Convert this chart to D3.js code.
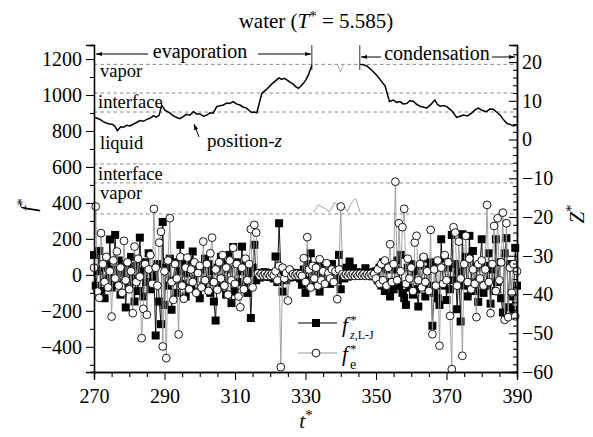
<!DOCTYPE html>
<html>
<head>
<meta charset="utf-8">
<script src="https://cdn.jsdelivr.net/npm/d3@7"></script>
<style>
  body { margin: 0; background: #fff; }
  svg { display: block; }
  text { font-family: "Liberation Serif", "DejaVu Serif", serif; fill: #000; }
</style>
</head>
<body>
<svg id="chart" width="593" height="437"></svg>
<script>
// sample times of the force series (every 0.5 t*)
const times = d3.range(270, 390.001, 0.5);

// f*_{z,L-J}  (black squares)
const fLJ = [
  110, -60, 20, 133, -90, 40, -130, 60, -20, 197, -70, 30, 222, -40, 80, -110, 10, 60, -181, 40,
  -50, 100, -20, -148, 50, -90, 207, 20, -120, 70, -40, 120, -80, 30, -10, -337, 60, -148, -274, 294,
  -167, 40, -60, 90, -194, -30, 70, -100, 20, 167, -50, 60, -120, 10, 80, -70, 130, -20, 50, -90,
  -130, 30, -60, 90, -30, 60, -100, 20, -148, -254, 40, -70, 100, -20, 60, -110, 30, 111, -157, 155,
  -93, 70, -40, 20, 157, -60, 50, -100, 10, -240, 40, 167, -30, 10, -15, 12, -8, 15, -10, 8,
  -12, 10, -20, 102, -40, 287, 30, -93, 20, -30, 10, -15, 12, -8, 10, -12, 8, -20, -55, 30,
  -100, 60, -30, 120, -60, 20, -40, 50, -93, 10, -37, 40, -20, 30, -50, 60, -10, 20, -30, 111,
  -80, 30, -20, 40, -10, 74, -5, 37, 5, 15, -5, 12, 0, 10, 37, -5, 8, 15, -8, 11,
  20, -30, 40, -60, 70, -90, 30, -40, -120, 50, -80, 30, 80, -60, 111, -100, -129, -167, 40, -70,
  60, -110, 20, -80, -176, 50, -40, 90, -120, 30, -60, 70, -283, -100, 40, -130, -167, 198, -60, 90,
  -140, 40, -80, 222, -30, 60, -191, 20, -259, 226, -60, 100, -120, 217, -40, 133, -90, 40, -150, 60,
  198, -100, 50, -60, 120, -160, 30, -90, 198, -40, 70, -130, -209, 120, 204, -180, 60, -120, -194, 150,
  -60
];

// f*_e  (open circles)
const fE = [
  40, 380, -93, -128, 232, 60, -40, 100, -70, 20, -232, 80, -20, 130, -60, 40, -100, 189, -30, 70,
  -80, 20, -213, 157, -40, 90, -10, -352, -189, 60, -222, 30, 110, -50, 367, 40, -60, 179, 240, -398,
  20, -463, 80, 315, -40, -139, 60, -20, -331, 100, -60, -133, 40, 96, -80, 30, -40, 70, -100, 10,
  50, -70, 185, -30, 60, -90, 120, 207, -40, 30, -83, 70, -20, 110, -60, 40, -110, 80, -30, 151,
  -50, 60, -120, -180, 40, -80, 90, -30, 60, 254, -70, 278, 235, 8, -5, 6, -4, 5, -6, 4,
  -5, 6, -3, 20, -30, 50, -513, 40, -20, 10, -143, 30, -8, 5, -4, 6, -5, 4, -6, 93,
  -40, 210, 30, -70, 50, -20, 40, -60, 87, -30, 20, -50, 65, 10, -20, 30, -40, 20, -135, 30,
  380, 5, -6, 4, -5, 6, -4, 5, -6, 4, -5, 6, -4, 5, -6, 4, -5, 6, -4, 5,
  -20, 30, -50, 60, -30, 80, -60, 40, 170, -40, 60, 518, -30, 287, 20, 265, 367, -50, 90, -20,
  40, -90, 180, 217, -30, 60, -70, 100, -40, 20, -90, 250, -330, 30, -60, 80, -394, 40, -50, 110,
  -30, 70, -228, -524, 265, 235, -60, 185, -20, -450, 60, 217, -40, 90, -80, 30, -50, -235, 60, -20,
  80, -60, 30, 389, -40, -213, 60, 272, -90, 315, -30, 70, 346, -250, 287, -235, 40, -100, 60, -230,
  20
];

// interface position Z* (black line)
const posEvapT = [270.3, 271.7, 272.6, 273.6, 274.5, 275.3, 276.0, 276.6, 277.6, 278.4, 279.3, 280.2, 281.2, 282.1, 283.0, 284.0, 285.0, 285.9, 286.8, 287.7, 288.5, 289.2, 290.1, 291.6, 292.5, 293.5, 294.4, 295.3, 296.2, 297.2, 298.2, 299.1, 300.1, 301.0, 302.0, 302.9, 303.8, 304.8, 305.8, 306.7, 307.6, 308.5, 309.5, 310.4, 311.4, 312.3, 313.3, 314.0, 314.7, 315.5, 316.2, 317.6, 319.0, 320.4, 321.8, 322.5, 323.2, 324.0, 324.7, 325.6, 326.5, 327.3, 328.0, 328.7, 329.4, 330.1, 330.8, 331.8];
const posEvapZ = [5.7, 5.2, 4.6, 4.2, 4.0, 3.9, 3.3, 2.3, 3.3, 3.2, 3.7, 3.5, 4.0, 4.4, 4.9, 4.7, 5.2, 5.5, 6.1, 5.8, 6.3, 8.9, 7.6, 6.8, 6.1, 5.7, 5.4, 5.9, 6.5, 6.3, 7.2, 6.6, 6.6, 6.0, 6.3, 6.9, 6.8, 8.5, 8.7, 8.9, 9.4, 9.3, 9.8, 9.2, 8.9, 8.4, 8.1, 7.5, 7.0, 7.1, 6.9, 11.9, 13.0, 14.3, 15.4, 15.9, 15.5, 15.8, 15.4, 14.8, 14.3, 13.6, 13.2, 13.8, 14.5, 15.4, 16.6, 19.2];
const posCondT = [345.5, 346.4, 347.4, 348.8, 350.2, 351.4, 352.6, 353.8, 354.9, 355.8, 356.8, 357.7, 358.7, 359.6, 360.6, 361.5, 362.5, 363.4, 364.4, 365.5, 366.7, 367.4, 368.2, 369.1, 370.1, 371.5, 372.9, 373.8, 374.8, 375.9, 377.1, 378.0, 379.0, 380.2, 381.4, 382.3, 383.3, 384.2, 385.2, 386.1, 387.1, 388.0, 389.0, 390.0];
const posCondZ = [19.4, 19.3, 19.0, 17.9, 16.6, 15.2, 13.8, 9.8, 10.2, 9.6, 9.8, 9.2, 9.3, 10.0, 9.9, 9.1, 8.6, 8.4, 8.1, 9.0, 10.2, 9.1, 8.6, 8.8, 8.5, 7.4, 5.7, 6.0, 6.3, 6.1, 6.8, 7.6, 8.1, 7.5, 7.2, 7.9, 7.8, 7.1, 6.3, 5.2, 4.2, 3.9, 3.5, 3.8];

// wrapped part of the position (grey thin line)
const grayLowT = [332.2, 333.6, 335.5, 336.8, 338.3, 339.6, 341.0, 341.9, 343.0, 344.2, 345.5];
const grayLowZ = [-18.9, -16.9, -17.8, -18.7, -16.2, -17.7, -17.1, -18.6, -16.4, -15.2, -18.8];
const grayTopT = [339.1, 339.9, 340.7];
const grayTopZ = [19.2, 17.4, 19.2];

// region boundaries (Z*) and labels
const guideZ = [19.4, 12.0, 7.1, -6.3, -11.2, -19.2];
const regionLabels = ["vapor", "interface", "liquid", "interface", "vapor"];

const leftTicks = [-400, -200, 0, 200, 400, 600, 800, 1000, 1200];
const leftMinor = [-500, -300, -100, 100, 300, 500, 700, 900, 1100];
const rightTicks = [-60, -50, -40, -30, -20, -10, 0, 10, 20];
const rightMinor = d3.range(-58, 24, 2).filter(v => v % 10 !== 0);
const bottomTicks = [270, 290, 310, 330, 350, 370, 390];
const bottomMinor = d3.range(275, 390, 5).filter(v => (v - 270) % 20 !== 0);

const svg = d3.select("#chart");
const L = 94, R = 517, T = 45, B = 372;

const x = d3.scaleLinear().domain([270, 390]).range([L, R]);
const yL = d3.scaleLinear().domain([-540, 1278]).range([B, T]);
const yR = d3.scaleLinear().domain([-60, 24.4]).range([B, T]);

const minusFmt = v => (v < 0 ? "\u2212" + Math.abs(v) : "" + v);

// dashed region lines
svg.append("g").selectAll("line").data(guideZ).join("line")
  .attr("x1", L).attr("x2", R)
  .attr("y1", d => yR(d)).attr("y2", d => yR(d))
  .attr("stroke", "#8a8a8a").attr("stroke-width", 1)
  .attr("stroke-dasharray", "3.5,3");

// region labels
const labelY = [77, 108, 149, 180, 199];
svg.append("g").selectAll("text").data(regionLabels).join("text")
  .attr("x", (d, i) => (i === 1 || i === 3 ? 98 : 100))
  .attr("y", (d, i) => labelY[i])
  .attr("font-size", 18.5)
  .text(d => d);

// position line
const posLine = d3.line().x(d => x(d[0])).y(d => yR(d[1]));
svg.append("path").datum(d3.zip(posEvapT, posEvapZ))
  .attr("d", posLine).attr("fill", "none").attr("stroke", "#000").attr("stroke-width", 1.5);
svg.append("path").datum(d3.zip(posCondT, posCondZ))
  .attr("d", posLine).attr("fill", "none").attr("stroke", "#000").attr("stroke-width", 1.5);
svg.append("path").datum(d3.zip(grayLowT, grayLowZ))
  .attr("d", posLine).attr("fill", "none").attr("stroke", "#9a9a9a").attr("stroke-width", 0.9);
svg.append("path").datum(d3.zip(grayTopT, grayTopZ))
  .attr("d", posLine).attr("fill", "none").attr("stroke", "#9a9a9a").attr("stroke-width", 0.9);

// force series
const fLine = d3.line().x((d, i) => x(times[i])).y(d => yL(d));
svg.append("path").datum(fLJ).attr("d", fLine)
  .attr("fill", "none").attr("stroke", "#000").attr("stroke-width", 0.9);
svg.append("g").selectAll("rect").data(fLJ).join("rect")
  .attr("x", (d, i) => x(times[i]) - 4).attr("y", d => yL(d) - 4)
  .attr("width", 8).attr("height", 8).attr("fill", "#000");
svg.append("path").datum(fE).attr("d", fLine)
  .attr("fill", "none").attr("stroke", "#9a9a9a").attr("stroke-width", 0.9);
svg.append("g").selectAll("circle").data(fE).join("circle")
  .attr("cx", (d, i) => x(times[i])).attr("cy", d => yL(d)).attr("r", 3.9)
  .attr("fill", "#fff").attr("stroke", "#000").attr("stroke-width", 0.9);

// axes
svg.append("g").attr("transform", `translate(${L},0)`)
  .call(d3.axisLeft(yL).tickValues(leftTicks).tickSize(8).tickPadding(4).tickFormat(minusFmt));
svg.append("g").attr("transform", `translate(${L},0)`)
  .call(d3.axisLeft(yL).tickValues(leftMinor).tickSize(4).tickFormat(""));
svg.append("g").attr("transform", `translate(${R},0)`)
  .call(d3.axisRight(yR).tickValues(rightTicks).tickSize(0).tickPadding(5).tickFormat(minusFmt));
svg.append("g").attr("transform", `translate(${R},0)`)
  .call(d3.axisLeft(yR).tickValues(rightTicks).tickSize(8).tickFormat(""));
svg.append("g").attr("transform", `translate(${R},0)`)
  .call(d3.axisLeft(yR).tickValues(rightMinor).tickSize(4).tickFormat(""));
svg.append("g").attr("transform", `translate(0,${B})`)
  .call(d3.axisBottom(x).tickValues(bottomTicks).tickSize(8).tickPadding(9).tickFormat(d3.format("d")));
svg.append("g").attr("transform", `translate(0,${B})`)
  .call(d3.axisBottom(x).tickValues(bottomMinor).tickSize(5).tickFormat(""));
svg.selectAll(".domain").attr("stroke", "#000").attr("stroke-width", 1.3);
svg.selectAll(".tick line").attr("stroke", "#000").attr("stroke-width", 1.1);
svg.selectAll(".tick text").attr("font-family", "Liberation Serif, DejaVu Serif, serif").attr("font-size", 20).attr("fill", "#000");

// title
const title = svg.append("text").attr("x", 316).attr("y", 28).attr("text-anchor", "middle").attr("font-size", 21);
title.append("tspan").text("water (");
title.append("tspan").attr("font-style", "italic").text("T");
title.append("tspan").attr("dy", -7).attr("font-size", 15).text("*");
title.append("tspan").attr("dy", 7).text(" = 5.585)");

// evaporation / condensation arrows
const defs = svg.append("defs");
defs.append("marker").attr("id", "ah").attr("viewBox", "0 0 10 10").attr("refX", 10).attr("refY", 5)
  .attr("markerWidth", 9).attr("markerHeight", 6).attr("orient", "auto-start-reverse")
  .append("path").attr("d", "M0,1.5 L10,5 L0,8.5 Z").attr("fill", "#000");
const ann = svg.append("g").attr("stroke", "#000").attr("stroke-width", 1);
ann.append("line").attr("x1", 148).attr("x2", 96).attr("y1", 54).attr("y2", 54).attr("marker-end", "url(#ah)");
ann.append("line").attr("x1", 258).attr("x2", 311).attr("y1", 54).attr("y2", 54).attr("marker-end", "url(#ah)");
ann.append("line").attr("x1", 381).attr("x2", 361).attr("y1", 57).attr("y2", 57).attr("marker-end", "url(#ah)");
ann.append("line").attr("x1", 492).attr("x2", 515).attr("y1", 57).attr("y2", 57).attr("marker-end", "url(#ah)");
ann.append("line").attr("x1", x(331.8)).attr("x2", x(331.8)).attr("y1", T).attr("y2", 70).attr("stroke-width", 0.8);
ann.append("line").attr("x1", x(345.4)).attr("x2", x(345.4)).attr("y1", T).attr("y2", 70).attr("stroke-width", 0.8);
svg.append("text").attr("x", 200).attr("y", 58).attr("text-anchor", "middle").attr("font-size", 20).text("evaporation");
svg.append("text").attr("x", 437).attr("y", 60).attr("text-anchor", "middle").attr("font-size", 20).text("condensation");

// position-z pointer
ann.append("line").attr("x1", 199).attr("y1", 137).attr("x2", 194).attr("y2", 124).attr("marker-end", "url(#ah)");
const pz = svg.append("text").attr("x", 207).attr("y", 147).attr("font-size", 19);
pz.append("tspan").text("position-");
pz.append("tspan").attr("font-style", "italic").text("z");

// axis titles
const fl = svg.append("text").attr("transform", "translate(35,205) rotate(-90)").attr("text-anchor", "middle").attr("font-size", 21);
fl.append("tspan").attr("font-style", "italic").text("f");
fl.append("tspan").attr("dy", -8).attr("font-size", 15).text("*");
const zl = svg.append("text").attr("transform", "translate(584,214) rotate(-90)").attr("text-anchor", "middle").attr("font-size", 21);
zl.append("tspan").attr("font-style", "italic").text("Z");
zl.append("tspan").attr("dy", -8).attr("font-size", 15).text("*");
const tl = svg.append("text").attr("x", 306).attr("y", 428).attr("text-anchor", "middle").attr("font-size", 21);
tl.append("tspan").attr("font-style", "italic").text("t");
tl.append("tspan").attr("dy", -8).attr("font-size", 15).text("*");

// legend
const lg = svg.append("g");
lg.append("line").attr("x1", 298).attr("x2", 337).attr("y1", 323).attr("y2", 323).attr("stroke", "#000").attr("stroke-width", 1);
lg.append("rect").attr("x", 316 - 4).attr("y", 323 - 4).attr("width", 8).attr("height", 8).attr("fill", "#000");
lg.append("line").attr("x1", 298).attr("x2", 337).attr("y1", 353).attr("y2", 353).attr("stroke", "#9a9a9a").attr("stroke-width", 1);
lg.append("circle").attr("cx", 316).attr("cy", 353).attr("r", 3.9).attr("fill", "#fff").attr("stroke", "#000").attr("stroke-width", 0.9);
const l1 = lg.append("text").attr("x", 342).attr("y", 332).attr("font-size", 21);
l1.append("tspan").attr("font-style", "italic").text("f");
l1.append("tspan").attr("x", 350).attr("y", 324).attr("font-size", 13).text("*");
l1.append("tspan").attr("x", 350).attr("y", 339).attr("font-size", 12).attr("font-style", "italic").text("z");
l1.append("tspan").attr("font-size", 12).text(",L-J");
const l2 = lg.append("text").attr("x", 342).attr("y", 361).attr("font-size", 21);
l2.append("tspan").attr("font-style", "italic").text("f");
l2.append("tspan").attr("x", 350).attr("y", 353).attr("font-size", 13).text("*");
l2.append("tspan").attr("x", 350).attr("y", 369).attr("font-size", 14).text("e");
</script>
</body>
</html>
